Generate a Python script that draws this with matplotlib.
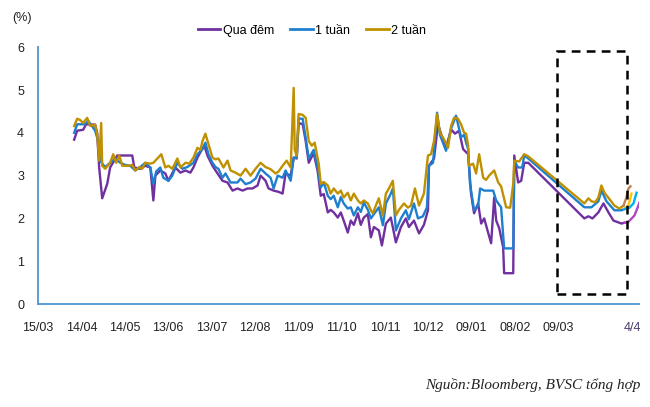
import matplotlib
matplotlib.use("Agg")
import matplotlib.pyplot as plt
from matplotlib.lines import Line2D
from matplotlib.patches import Rectangle

plt.rcParams['font.family'] = ['Liberation Sans', 'DejaVu Sans']

# x = days since 15/03
TICK_POS = [0, 30, 60, 90, 120, 150, 180, 210, 240, 270, 300, 330, 360, 411]
TICK_LABELS = ['15/03', '14/04', '14/05', '13/06', '13/07', '12/08', '11/09',
               '11/10', '10/11', '10/12', '09/01', '08/02', '09/03', '4/4']

# Qua đêm
on_x = [25.0, 27.1, 31.2, 33.3, 39.5, 40.9, 42.3, 44.4, 47.9, 49.9,
        54.8, 65.2, 66.6, 70.7, 74.2, 77.7, 79.8, 81.2, 84.6, 88.1,
        90.2, 95.0, 98.5, 102.0, 105.4, 107.5, 110.3, 112.4, 115.1, 117.2,
        120.7, 124.2, 127.6, 131.1, 134.6, 138.0, 141.5, 145.0, 148.4, 151.9,
        154.0, 157.4, 159.5, 163.0, 166.5, 169.2, 171.3, 174.8, 176.9, 179.0,
        180.3, 183.1, 185.2, 187.3, 190.7, 193.5, 195.6, 197.7, 200.5, 202.5,
        204.6, 207.4, 209.5, 211.5, 214.3, 216.4, 218.5, 221.3, 223.3, 225.4,
        228.2, 230.3, 232.4, 235.8, 237.9, 240.7, 244.1, 247.6, 251.1, 254.5,
        256.6, 260.1, 263.6, 267.0, 269.8, 270.5, 274.0, 276.7, 278.8, 282.3,
        285.8, 288.5, 291.3, 294.1, 297.6, 299.6, 301.7, 304.5, 306.6, 308.7,
        311.4, 313.5, 315.6, 317.0, 319.1, 321.8, 322.5, 328.8, 329.5, 332.2,
        334.3, 336.4, 339.2, 378.0, 380.8, 383.6, 387.7, 391.2, 394.7, 398.1,
        403.7, 405.8]
on_y = [3.84, 4.05, 4.07, 4.20, 4.19, 4.00, 3.19, 2.47, 2.81, 3.19,
        3.47, 3.47, 3.19, 3.16, 3.23, 3.19, 2.42, 3.00, 3.12, 3.05,
        2.88, 3.19, 3.07, 3.12, 3.07, 3.19, 3.42, 3.55, 3.70, 3.47,
        3.23, 3.05, 2.88, 2.84, 2.65, 2.70, 2.65, 2.70, 2.70, 2.77,
        3.00, 2.88, 2.70, 2.65, 2.62, 2.58, 3.05, 3.00, 3.42, 3.40,
        4.23, 4.20, 3.81, 3.30, 3.53, 3.10, 2.53, 2.57, 2.14, 2.20,
        2.14, 2.02, 2.14, 1.95, 1.67, 1.95, 1.85, 2.12, 1.85, 2.02,
        2.10, 1.56, 1.80, 1.72, 1.37, 1.88, 2.02, 1.44, 1.80, 2.00,
        1.80, 1.95, 1.65, 1.85, 2.19, 3.23, 3.40, 4.20, 3.98, 3.65,
        4.08, 3.98, 4.05, 3.62, 3.50, 2.58, 2.12, 2.35, 1.88, 2.00,
        1.67, 1.42, 2.49, 1.95, 1.77, 1.33, 0.72, 0.72, 3.47, 2.84,
        2.88, 3.30, 3.30, 2.00, 2.05, 2.00, 2.14, 2.35, 2.14, 1.95,
        1.88, 1.90]
on_end_x = [405.8, 408.5, 412.7, 414.8, 417.5]
on_end_y = [1.90, 1.92, 2.07, 2.25, 2.49]

# 1 tuần
w1_x = [25.0, 27.1, 32.6, 34.7, 37.5, 39.5, 41.6, 43.0, 44.4, 46.5,
        49.9, 53.4, 56.9, 60.3, 63.8, 67.3, 70.7, 74.2, 77.7, 79.8,
        81.8, 84.6, 86.7, 90.2, 92.9, 96.4, 99.9, 103.3, 107.5, 110.3,
        113.8, 115.8, 117.9, 120.7, 122.8, 124.8, 127.6, 129.7, 133.2, 138.0,
        140.1, 143.6, 147.0, 150.5, 154.0, 157.4, 160.9, 163.0, 165.8, 169.2,
        171.3, 174.8, 176.9, 179.0, 180.3, 183.1, 185.2, 187.3, 190.7, 193.5,
        195.6, 197.7, 200.5, 202.5, 204.6, 207.4, 209.5, 211.5, 214.3, 216.4,
        218.5, 221.3, 223.3, 225.4, 228.2, 230.3, 232.4, 235.8, 238.6, 240.7,
        244.1, 245.5, 247.6, 251.1, 254.5, 256.6, 260.1, 262.9, 266.3, 269.1,
        270.5, 273.3, 276.1, 278.1, 282.3, 285.8, 289.2, 292.7, 294.8, 296.2,
        297.6, 298.9, 301.7, 304.5, 305.9, 308.7, 314.9, 317.0, 320.4, 322.5,
        328.8, 329.5, 332.2, 335.0, 336.4, 339.2, 378.0, 382.9, 387.7, 389.8,
        393.3, 398.8, 403.7, 405.8]
w1_y = [4.00, 4.20, 4.20, 4.28, 4.15, 4.05, 3.81, 3.35, 3.28, 3.20,
        3.30, 3.40, 3.30, 3.25, 3.23, 3.12, 3.20, 3.30, 3.19, 2.81,
        3.10, 3.19, 2.95, 2.88, 3.00, 3.30, 3.16, 3.20, 3.30, 3.50,
        3.62, 3.77, 3.50, 3.30, 3.20, 3.16, 2.95, 3.05, 2.84, 2.84,
        2.93, 2.80, 2.84, 2.93, 3.16, 3.05, 2.95, 2.70, 3.00, 2.95,
        3.12, 2.88, 3.42, 3.42, 4.33, 4.33, 3.88, 3.40, 3.60, 3.19,
        2.72, 2.84, 2.53, 2.45, 2.53, 2.26, 2.50, 2.35, 2.23, 2.26,
        2.07, 2.26, 2.15, 2.37, 2.20, 2.00, 2.10, 2.26, 1.84, 2.35,
        2.58, 2.70, 1.72, 2.00, 2.19, 1.98, 2.35, 2.00, 2.05, 2.26,
        3.23, 3.30, 4.47, 3.95, 3.58, 4.10, 4.40, 3.90, 3.95, 3.77,
        3.62, 2.81, 2.19, 2.30, 2.70, 2.65, 2.65, 2.42, 2.26, 1.30,
        1.30, 3.35, 3.19, 3.19, 3.47, 3.40, 2.26, 2.26, 2.40, 2.65,
        2.40, 2.19, 2.19, 2.22]
w1_end_a_x = [405.8, 408.5, 410.6]
w1_end_a_y = [2.22, 2.30, 2.58]
w1_end_b_x = [405.8, 409.2, 412.0, 414.1]
w1_end_b_y = [2.22, 2.25, 2.35, 2.60]

# 2 tuần
w2_x = [25.0, 27.1, 29.1, 31.2, 34.0, 36.1, 39.5, 40.9, 42.3, 43.7,
        44.4, 46.5, 49.9, 52.0, 54.1, 56.2, 58.3, 62.4, 65.2, 67.3,
        70.1, 72.1, 74.2, 77.7, 79.8, 82.5, 85.3, 88.1, 90.2, 92.9,
        96.4, 98.5, 102.0, 104.7, 107.5, 110.3, 112.4, 113.8, 115.8, 117.9,
        120.7, 122.8, 124.8, 128.3, 131.1, 133.2, 136.6, 140.1, 143.6, 147.0,
        150.5, 154.0, 157.4, 160.9, 164.4, 166.5, 169.2, 172.0, 174.8, 176.9,
        177.6, 179.0, 180.3, 183.1, 185.2, 187.3, 189.4, 191.4, 194.2, 195.6,
        197.7, 200.5, 202.5, 204.6, 207.4, 209.5, 211.5, 214.3, 216.4, 218.5,
        221.3, 223.3, 225.4, 228.2, 230.3, 231.7, 233.7, 235.8, 238.6, 240.7,
        242.8, 245.5, 247.6, 249.7, 253.2, 255.9, 258.0, 260.8, 263.6, 267.0,
        269.8, 271.9, 274.0, 276.1, 278.1, 280.9, 283.7, 285.8, 287.8, 290.6,
        292.7, 294.8, 296.2, 297.6, 298.2, 301.0, 303.1, 305.2, 308.0, 310.0,
        312.1, 315.6, 318.4, 320.4, 323.9, 326.7, 328.8, 329.5, 332.9, 336.4,
        339.2, 378.0, 380.8, 382.9, 385.6, 387.7, 389.8, 391.9, 395.4, 398.8,
        402.3, 405.1]
w2_y = [4.16, 4.33, 4.30, 4.23, 4.35, 4.16, 4.19, 3.98, 3.35, 4.23,
        3.23, 3.16, 3.30, 3.50, 3.30, 3.47, 3.23, 3.23, 3.25, 3.12,
        3.20, 3.16, 3.30, 3.28, 3.30, 3.40, 3.50, 3.19, 3.23, 3.16,
        3.40, 3.19, 3.30, 3.28, 3.42, 3.65, 3.60, 3.81, 3.98, 3.74,
        3.42, 3.38, 3.40, 3.19, 3.35, 3.12, 3.07, 3.00, 3.16, 3.00,
        3.16, 3.30, 3.20, 3.15, 3.05, 3.10, 3.23, 3.35, 3.19, 5.05,
        3.60, 3.47, 4.44, 4.42, 4.35, 3.81, 3.70, 3.77, 3.28, 2.81,
        2.85, 2.77, 2.58, 2.70, 2.58, 2.65, 2.49, 2.60, 2.42, 2.58,
        2.42, 2.35, 2.42, 2.35, 2.19, 2.12, 2.30, 2.47, 2.07, 2.58,
        2.70, 2.88, 2.07, 2.20, 2.35, 2.25, 2.30, 2.70, 2.30, 2.58,
        3.47, 3.50, 3.81, 4.44, 4.00, 3.85, 3.65, 4.16, 4.35, 4.33,
        4.20, 4.00, 3.98, 3.70, 3.23, 3.28, 3.05, 3.50, 2.95, 2.90,
        3.00, 3.12, 2.84, 2.75, 2.26, 2.25, 2.81, 3.35, 3.33, 3.50,
        3.45, 2.35, 2.47, 2.40, 2.38, 2.49, 2.77, 2.60, 2.45, 2.30,
        2.23, 2.30]
w2_end_x = [405.1, 407.1, 408.5, 409.9]
w2_end_y = [2.30, 2.49, 2.70, 2.75]

C_ON = '#7030a0'
C_W1 = '#1f7fcf'
C_W2 = '#bf9000'

fig = plt.figure(figsize=(6.5, 4.07), dpi=100)
ax = fig.add_axes([0.0585, 0.253, 0.925, 0.631])

lw = 1.7
ax.plot(on_x, on_y, color=C_ON, lw=lw)
ax.plot(on_end_x, on_end_y, color='#b048c0', lw=lw)
ax.plot(w1_x, w1_y, color=C_W1, lw=lw)
ax.plot(w1_end_a_x, w1_end_a_y, color='#ffc000', lw=lw)
ax.plot(w1_end_b_x, w1_end_b_y, color='#00b0f0', lw=lw)
ax.plot(w2_x, w2_y, color=C_W2, lw=lw)
ax.plot(w2_end_x, w2_end_y, color='#c08050', lw=lw)

# highlighted window
ax.add_patch(Rectangle((359.3, 0.23), 48.5, 5.67, fill=False, ec='black',
                       lw=1.8, ls=(0, (3.5, 2.5)), clip_on=False, zorder=5))

ax.set_xlim(0, 416)
ax.set_ylim(0, 6)
ax.set_xticks(TICK_POS)
ax.set_xticklabels(TICK_LABELS)
ax.set_yticks(range(7))
ax.tick_params(length=0, labelsize=9, colors='#222222')
ax.tick_params(axis='x', pad=13)
ax.tick_params(axis='y', pad=10)
ax.get_xticklabels()[-1].set_color('#4a3a6a')
for s in ['top', 'right']:
    ax.spines[s].set_visible(False)
for s in ['left', 'bottom']:
    ax.spines[s].set_color('#5b9bd5')
    ax.spines[s].set_linewidth(1.4)

fig.text(22 / 650, 1 - 18 / 407, '(%)', ha='center', va='center',
         fontsize=9, color='#222222')

handles = [Line2D([], [], color=c, lw=2) for c in (C_ON, C_W1, C_W2)]
fig.legend(handles, ['Qua đêm', '1 tuần', '2 tuần'], loc='center',
           bbox_to_anchor=(0.48, 0.925), ncol=3, frameon=False,
           fontsize=9, handlelength=1.8, handletextpad=0.2,
           columnspacing=1.3)

fig.text(0.985, 0.054, 'Nguồn:Bloomberg, BVSC tổng hợp', ha='right',
         va='center', family='Liberation Serif', style='italic',
         fontsize=11, color='#222222')

fig.savefig('out.png', dpi=100)
